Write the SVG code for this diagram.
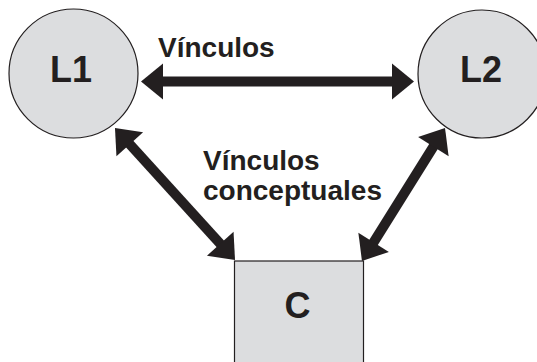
<svg xmlns="http://www.w3.org/2000/svg" width="537" height="362" viewBox="0 0 537 362">
<style>
.node{fill:#dcdddf;stroke:#231f20;stroke-width:1.2}
.lbl{font-family:"Liberation Sans",Arial,sans-serif;font-weight:bold;fill:#231f20}
.nl{font-size:36px;text-anchor:middle}
.el{font-size:28px}
.conn{stroke:#231f20;stroke-width:10;fill:none;marker-start:url(#ah);marker-end:url(#ah)}
</style>
<defs>
<marker id="ah" markerUnits="userSpaceOnUse" markerWidth="40" markerHeight="40" refX="1" refY="0" orient="auto-start-reverse" overflow="visible">
<path d="M0,-18 L22,0 L0,18 z" fill="#231f20"/>
</marker>
</defs>
<rect width="537" height="362" fill="#ffffff"/>
<g id="L1">
<circle class="node" cx="73.5" cy="73.5" r="64.5"/>
<text class="lbl nl" x="71" y="82">L1</text>
</g>
<g id="L2">
<circle class="node" cx="482" cy="74" r="64"/>
<text class="lbl nl" x="481" y="82">L2</text>
</g>
<g id="C">
<rect class="node" x="234.5" y="261" width="129" height="110"/>
<text class="lbl nl" x="297.5" y="318">C</text>
</g>
<g id="connectors">
<line class="conn" x1="162" y1="81.5" x2="393" y2="81.5"/>
<line class="conn" x1="129.1" y1="143.5" x2="220.9" y2="244.5"/>
<line class="conn" x1="433.9" y1="145.8" x2="373.1" y2="243.2"/>
</g>
<g id="labels">
<text class="lbl el" x="158" y="57">Vínculos</text>
<text class="lbl el" x="203" y="170">Vínculos</text>
<text class="lbl el" x="203" y="200">conceptuales</text>
</g>
</svg>
